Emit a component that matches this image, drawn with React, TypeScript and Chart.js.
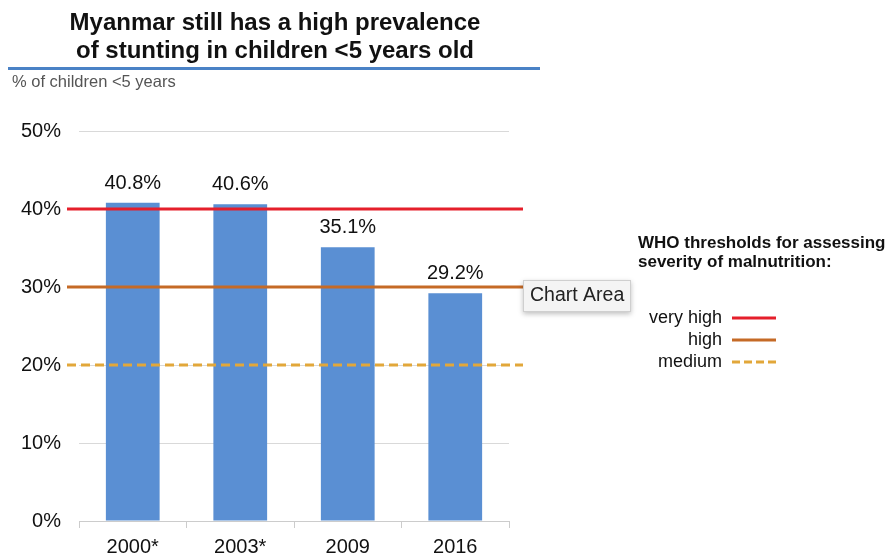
import React, { useEffect, useRef } from "react";
import { Chart, registerables } from "chart.js";

Chart.register(...registerables);

const categories = ["2000*", "2003*", "2009", "2016"];
const stunting = [40.8, 40.6, 35.1, 29.2];
const yTicks = [0, 10, 20, 30, 40, 50];
const thresholdNames = ["very high", "high", "medium"];
const thresholdValues = [40, 30, 20];
const thresholdColors = ["#e51f2b", "#c56a26", "#e2a73a"];
const thresholdDashed = [false, false, true];
const titleLines = ["Myanmar still has a high prevalence", "of stunting in children <5 years old"];
const subtitle = "% of children <5 years";
const legendTitle = ["WHO thresholds for assessing", "severity of malnutrition:"];

const FONT = '"Liberation Sans", Arial, Helvetica, sans-serif';

const decorPlugin = {
  id: "decor",
  afterDatasetsDraw(chart: any) {
    const ctx = chart.ctx;
    const { left, right } = chart.chartArea;
    const y = chart.scales.y;
    ctx.save();
    // threshold lines
    thresholdValues.forEach((v, i) => {
      const py = y.getPixelForValue(v);
      ctx.beginPath();
      ctx.strokeStyle = thresholdColors[i];
      ctx.lineWidth = 3;
      ctx.setLineDash(thresholdDashed[i] ? [9, 5] : []);
      ctx.moveTo(left - 12, py);
      ctx.lineTo(right + 14, py);
      ctx.stroke();
    });
    ctx.setLineDash([]);
    // data labels
    const meta = chart.getDatasetMeta(0);
    ctx.fillStyle = "#111";
    ctx.font = `20px ${FONT}`;
    ctx.textAlign = "center";
    ctx.textBaseline = "alphabetic";
    meta.data.forEach((bar: any, i: number) => {
      ctx.fillText(stunting[i].toFixed(1) + "%", bar.x, bar.y - 14);
    });
    ctx.restore();
  },
  afterDraw(chart: any) {
    const ctx = chart.ctx;
    ctx.save();
    // title
    ctx.fillStyle = "#111";
    ctx.font = `bold 24px ${FONT}`;
    ctx.textAlign = "center";
    ctx.textBaseline = "middle";
    ctx.fillText(titleLines[0], 275, 23);
    ctx.fillText(titleLines[1], 275, 51);
    // blue rule
    ctx.fillStyle = "#4a82c6";
    ctx.fillRect(8, 67, 532, 3);
    // subtitle
    ctx.fillStyle = "#555";
    ctx.font = `16.5px ${FONT}`;
    ctx.textAlign = "left";
    ctx.fillText(subtitle, 12, 82);
    // chart area tooltip box
    ctx.shadowColor = "rgba(0,0,0,0.25)";
    ctx.shadowBlur = 5;
    ctx.shadowOffsetY = 2;
    ctx.fillStyle = "#f4f4f4";
    ctx.fillRect(523, 280, 108, 32);
    ctx.shadowColor = "transparent";
    ctx.strokeStyle = "#cfcfcf";
    ctx.lineWidth = 1;
    ctx.strokeRect(523.5, 280.5, 107, 31);
    ctx.fillStyle = "#222";
    ctx.font = `19.5px ${FONT}`;
    ctx.textAlign = "left";
    ctx.fillText("Chart Area", 530, 296);
    // legend
    ctx.fillStyle = "#111";
    ctx.font = `bold 17px ${FONT}`;
    ctx.fillText(legendTitle[0], 638, 243);
    ctx.fillText(legendTitle[1], 638, 262);
    ctx.font = `18px ${FONT}`;
    ctx.textAlign = "right";
    thresholdNames.forEach((n, i) => {
      const ly = 318 + i * 22;
      ctx.fillStyle = "#111";
      ctx.fillText(n, 722, ly);
      ctx.beginPath();
      ctx.strokeStyle = thresholdColors[i];
      ctx.lineWidth = 3;
      ctx.setLineDash(thresholdDashed[i] ? [8, 4] : []);
      ctx.moveTo(732, ly);
      ctx.lineTo(776, ly);
      ctx.stroke();
    });
    ctx.restore();
  },
};

export default function App() {
  const ref = useRef<HTMLCanvasElement>(null);
  useEffect(() => {
    if (!ref.current) return;
    const chart = new Chart(ref.current, {
      type: "bar",
      data: {
        labels: categories,
        datasets: [
          {
            data: stunting,
            backgroundColor: "#5a8fd3",
            barPercentage: 0.5,
            categoryPercentage: 1,
          },
        ],
      },
      options: {
        animation: false,
        responsive: false,
        events: [],
        layout: { padding: { top: 131, right: 377, left: 0, bottom: 0 } },
        plugins: { legend: { display: false }, tooltip: { enabled: false }, title: { display: false } },
        scales: {
          x: {
            grid: { drawOnChartArea: false, color: "#cccccc", tickLength: 7, offset: true },
            border: { color: "#cccccc" },
            ticks: { color: "#111", font: { family: FONT, size: 20 }, padding: 7 },
            afterFit(scale: any) {
              scale.height = 36;
            },
          },
          y: {
            min: 0,
            max: 50,
            afterBuildTicks(scale: any) {
              scale.ticks = yTicks.map((v) => ({ value: v }));
            },
            grid: { color: "#d9d9d9", drawTicks: false },
            border: { display: false },
            ticks: {
              color: "#111",
              font: { family: FONT, size: 20 },
              padding: 18,
              callback: (v: any) => v + "%",
            },
            afterFit(scale: any) {
              scale.width = 79;
            },
          },
        },
      },
      plugins: [decorPlugin],
    });
    return () => chart.destroy();
  }, []);
  return (
    <div style={{ position: "absolute", left: 0, top: 0, width: 886, height: 557, background: "#fff" }}>
      <canvas ref={ref} width={886} height={557} style={{ width: 886, height: 557 }} />
    </div>
  );
}
